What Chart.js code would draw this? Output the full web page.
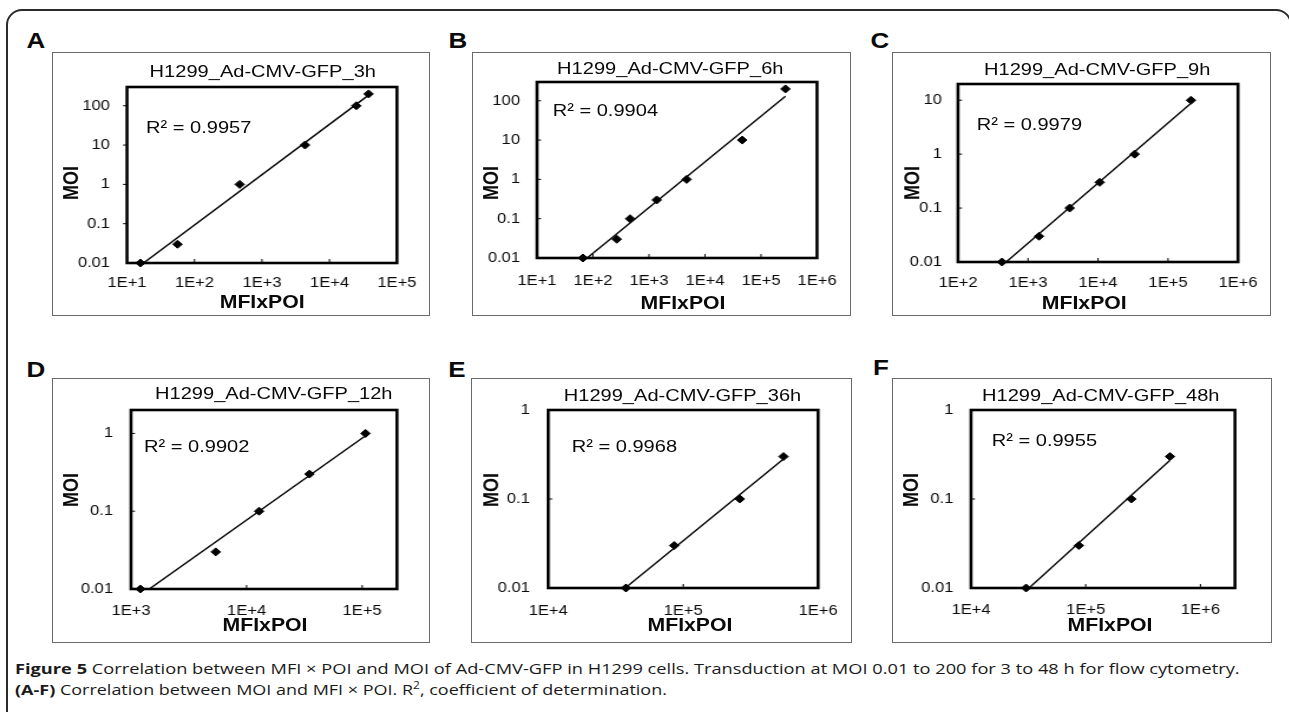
<!DOCTYPE html>
<html>
<head>
<meta charset="utf-8">
<script src="https://cdn.jsdelivr.net/npm/chart.js@4.4.1/dist/chart.umd.min.js"></script>
<style>
  html, body { margin: 0; padding: 0; background: #fff; }
  body { width: 1289px; height: 712px; position: relative; overflow: hidden;
         font-family: "Liberation Sans", Arial, sans-serif; color: #0a0a0a; }
  #frame { position: absolute; left: 6px; top: 9px; width: 1286px; height: 720px;
           border: 2px solid #2b2b2b; border-radius: 16px; box-sizing: border-box; }
  .panel { position: absolute; }
  .box { position: absolute; left: 0; top: 0; right: 0; bottom: 0; border: 1px solid #6a6a6a; }
  .inner { position: absolute; left: 0; top: 0; transform-origin: 0 0; }
  .inner canvas { position: absolute; left: 0; top: 0; }
  .t { position: absolute; white-space: nowrap; line-height: 1; }
  .title { font-size: 17px; transform: translate(-50%, -50%); }
  .r2 { font-size: 17px; transform: translate(0, -50%); }
  .axt { font-size: 18px; font-weight: bold; transform: translate(-50%, -50%); }
  .axy { font-size: 18px; font-weight: bold; transform: translate(-50%, -50%) rotate(-90deg); }
  .letter { position: absolute; font-size: 22px; font-weight: bold; line-height: 1; }
  .cap { position: absolute; left: 15px; white-space: nowrap; line-height: 1;
         font-family: "Open Sans", "Noto Sans", sans-serif; font-size: 15px; color: #1a1a1a;
         transform-origin: 0 50%; }
  .cap b { font-weight: bold; }
  .cap sup { font-size: 10px; line-height: 0; }
</style>
</head>
<body>
<div id="frame"></div>
<div id="fig"></div>
<div class="cap" id="cap1"><b>Figure 5</b> Correlation between MFI × POI and MOI of Ad-CMV-GFP in H1299 cells. Transduction at MOI 0.01 to 200 for 3 to 48 h for flow cytometry.</div>
<div class="cap" id="cap2"><b>(A-F)</b> Correlation between MOI and MFI × POI. R<sup>2</sup>, coefficient of determination.</div>

<script>
// horizontal stretch of the original figure
const S = 1.18

const titles = [
  'H1299_Ad-CMV-GFP_3h', 'H1299_Ad-CMV-GFP_6h', 'H1299_Ad-CMV-GFP_9h',
  'H1299_Ad-CMV-GFP_12h', 'H1299_Ad-CMV-GFP_36h', 'H1299_Ad-CMV-GFP_48h',
]
const r2Labels = ['R² = 0.9957', 'R² = 0.9904', 'R² = 0.9979', 'R² = 0.9902', 'R² = 0.9968', 'R² = 0.9955']
const panelLetters = ['A', 'B', 'C', 'D', 'E', 'F']
const xTitle = 'MFIxPOI'
const yTitle = 'MOI'

// MFI x POI (x) and MOI (y) per panel
const mfiA = [15.8, 56, 467, 4340, 25000, 38000]
const moiA = [0.01, 0.03, 1, 10, 100, 200]
const mfiB = [66, 266, 460, 1374, 4700, 46100, 273000]
const moiB = [0.01, 0.03, 0.1, 0.3, 1, 10, 200]
const mfiC = [425, 1436, 3940, 10560, 33400, 213000]
const moiC = [0.01, 0.03, 0.1, 0.3, 1, 10]
const mfiD = [1205, 5410, 12830, 35000, 106900]
const moiD = [0.01, 0.03, 0.1, 0.3, 1]
const mfiE = [37600, 85900, 263000, 554000]
const moiE = [0.01, 0.03, 0.1, 0.3]
const mfiF = [30200, 87100, 249700, 543000]
const moiF = [0.01, 0.03, 0.1, 0.3]

// tick values and labels
const xTicksA = [1e1, 1e2, 1e3, 1e4, 1e5]
const xLabelsA = ['1E+1', '1E+2', '1E+3', '1E+4', '1E+5']
const xTicksB = [1e1, 1e2, 1e3, 1e4, 1e5, 1e6]
const xLabelsB = ['1E+1', '1E+2', '1E+3', '1E+4', '1E+5', '1E+6']
const xTicksC = [1e2, 1e3, 1e4, 1e5, 1e6]
const xLabelsC = ['1E+2', '1E+3', '1E+4', '1E+5', '1E+6']
const xTicksD = [1e3, 1e4, 1e5]
const xLabelsD = ['1E+3', '1E+4', '1E+5']
const xTicksEF = [1e4, 1e5, 1e6]
const xLabelsEF = ['1E+4', '1E+5', '1E+6']
const yTicksAB = [0.01, 0.1, 1, 10, 100]
const yLabelsAB = ['0.01', '0.1', '1', '10', '100']
const yTicksC = [0.01, 0.1, 1, 10]
const yLabelsC = ['0.01', '0.1', '1', '10']
const yTicksDEF = [0.01, 0.1, 1]
const yLabelsDEF = ['0.01', '0.1', '1']

// axis ranges
const xRanges = [[10, 1e5], [10, 1e6], [100, 1e6], [1000, 2e5], [1e4, 1e6], [1e4, 2e6]]
const yRanges = [[0.01, 300], [0.01, 300], [0.01, 20], [0.01, 2], [0.01, 1], [0.01, 1]]

// layout in page pixels
const panels = [
  { x: mfiA, y: moiA, xt: xTicksA, xl: xLabelsA, yt: yTicksAB, yl: yLabelsAB,
    box: [52, 52, 430, 316], plot: [127, 87, 397, 263], xGap: 20.5, yGap: 17, yOut: true,
    title: [262.8, 71.2], r2: [146, 127], ax: [262.2, 301.7], ay: [71.2, 182.5], letter: [36, 41] },
  { x: mfiB, y: moiB, xt: xTicksB, xl: xLabelsB, yt: yTicksAB, yl: yLabelsAB,
    box: [472, 52, 851, 316], plot: [537, 82, 817, 258], xGap: 22.7, yGap: 17, yOut: false,
    title: [670.3, 67.8], r2: [552.7, 110], ax: [683, 303.3], ay: [491.2, 182.5], letter: [457.5, 41] },
  { x: mfiC, y: moiC, xt: xTicksC, xl: xLabelsC, yt: yTicksC, yl: yLabelsC,
    box: [892, 52, 1271, 316], plot: [958, 84, 1238, 262], xGap: 21.3, yGap: 16, yOut: false,
    title: [1097.2, 68.8], r2: [976.7, 123.7], ax: [1084.3, 303.3], ay: [912, 182.5], letter: [880, 41] },
  { x: mfiD, y: moiD, xt: xTicksD, xl: xLabelsD, yt: yTicksDEF, yl: yLabelsDEF,
    box: [52, 378, 430, 643], plot: [131, 410, 397, 589], xGap: 22.4, yGap: 18, yOut: false,
    title: [273.8, 393.3], r2: [144, 446], ax: [265, 625], ay: [71.2, 489.5], letter: [36, 369.5] },
  { x: mfiE, y: moiE, xt: xTicksEF, xl: xLabelsEF, yt: yTicksDEF, yl: yLabelsDEF,
    box: [471, 378, 852, 643], plot: [548, 410, 817, 588], xGap: 22.8, yGap: 18.3, yOut: false,
    title: [682.5, 395], r2: [571.7, 445.5], ax: [690, 625], ay: [491.2, 489.5], letter: [457, 369.5] },
  { x: mfiF, y: moiF, xt: xTicksEF, xl: xLabelsEF, yt: yTicksDEF, yl: yLabelsDEF,
    box: [892, 378, 1272, 643], plot: [971, 410, 1235, 588], xGap: 22.5, yGap: 17.7, yOut: false,
    title: [1100.8, 395], r2: [991.7, 440.3], ax: [1110, 625], ay: [911.2, 489.5], letter: [880.8, 368] },
]

Chart.defaults.font.family = '"Liberation Sans", Arial, sans-serif'
Chart.defaults.color = '#0a0a0a'

// Excel style power trendline: least squares in log-log space
const powerTrend = (xs, ys) => {
  const lx = xs.map(Math.log10)
  const ly = ys.map(Math.log10)
  const n = lx.length
  const mx = lx.reduce((a, b) => a + b, 0) / n
  const my = ly.reduce((a, b) => a + b, 0) / n
  let sxy = 0
  let sxx = 0
  for (let i = 0; i < n; i++) {
    sxy += (lx[i] - mx) * (ly[i] - my)
    sxx += (lx[i] - mx) * (lx[i] - mx)
  }
  const b = sxy / sxx
  const a = my - b * mx
  const x0 = Math.min(...xs)
  const x1 = Math.max(...xs)
  return [x0, x1].map((v) => ({ x: v, y: Math.pow(10, a + b * Math.log10(v)) }))
}

// plot frame and inner tick marks
const frameTicks = {
  id: 'frameTicks',
  beforeDatasetsDraw(chart, args, opts) {
    const { ctx, chartArea: a } = chart
    const { x, y } = chart.scales
    ctx.save()
    ctx.strokeStyle = '#000'
    ctx.lineWidth = 1
    x.ticks.forEach((t) => {
      const px = x.getPixelForValue(t.value)
      if (px <= a.left + 2 || px >= a.right - 2) return
      ctx.beginPath()
      ctx.moveTo(px, a.bottom)
      ctx.lineTo(px, a.bottom - 4)
      ctx.stroke()
    })
    y.ticks.forEach((t) => {
      const py = y.getPixelForValue(t.value)
      if (py <= a.top + 2 || py >= a.bottom - 2) return
      const dx = (opts.yOut ? -4 : 4) / S
      ctx.beginPath()
      ctx.moveTo(a.left, py)
      ctx.lineTo(a.left + dx, py)
      ctx.stroke()
    })
    ctx.lineWidth = 2.6
    ctx.strokeRect(a.left, a.top, a.right - a.left, a.bottom - a.top)
    ctx.restore()
  },
}

const fig = document.getElementById('fig')

const addText = (parent, cls, text, left, top) => {
  const el = document.createElement('div')
  el.className = 't ' + cls
  el.textContent = text
  el.style.left = left + 'px'
  el.style.top = top + 'px'
  parent.appendChild(el)
}

panels.forEach((p, i) => {
  const [bx, by, bx2, by2] = p.box
  const bw = bx2 - bx
  const bh = by2 - by
  const cw = bw / S
  const ch = bh

  const panel = document.createElement('div')
  panel.className = 'panel'
  Object.assign(panel.style, { left: bx + 'px', top: by + 'px', width: bw + 'px', height: bh + 'px' })
  const box = document.createElement('div')
  box.className = 'box'
  panel.appendChild(box)
  const inner = document.createElement('div')
  inner.className = 'inner'
  Object.assign(inner.style, { width: cw + 'px', height: ch + 'px', transform: `scaleX(${S})` })
  const canvas = document.createElement('canvas')
  inner.appendChild(canvas)
  panel.appendChild(inner)
  fig.appendChild(panel)

  const letter = document.createElement('div')
  letter.className = 'letter'
  letter.textContent = panelLetters[i]
  Object.assign(letter.style, {
    left: p.letter[0] + 'px', top: p.letter[1] + 'px',
    transform: `translate(-50%, -50%) scaleX(${S})`,
  })
  fig.appendChild(letter)

  // texts in canvas coordinates
  const cx = (X) => (X - bx) / S
  const cy = (Y) => Y - by
  addText(inner, 'title', titles[i], cx(p.title[0]), cy(p.title[1]))
  addText(inner, 'r2', r2Labels[i], cx(p.r2[0]), cy(p.r2[1]))
  addText(inner, 'axt', xTitle, cx(p.ax[0]), cy(p.ax[1]))
  addText(inner, 'axy', yTitle, cx(p.ay[0]), cy(p.ay[1]))

  const left = cx(p.plot[0])
  const right = cx(p.plot[2])
  const top = cy(p.plot[1])
  const bottom = cy(p.plot[3])
  const points = p.x.map((v, k) => ({ x: v, y: p.y[k] }))

  new Chart(canvas, {
    type: 'scatter',
    data: {
      datasets: [
        {
          data: points,
          pointStyle: 'rectRot',
          pointRadius: 4,
          backgroundColor: '#000',
          borderColor: '#000',
          borderWidth: 1,
          clip: false,
        },
        {
          data: powerTrend(p.x, p.y),
          showLine: true,
          pointRadius: 0,
          borderColor: '#000',
          borderWidth: 1.4,
        },
      ],
    },
    options: {
      responsive: true,
      maintainAspectRatio: false,
      animation: false,
      events: [],
      layout: { padding: { left: 0, top: top, right: cw - right, bottom: 0 } },
      plugins: {
        legend: { display: false },
        tooltip: { enabled: false },
        frameTicks: { yOut: p.yOut },
      },
      scales: {
        x: {
          type: 'logarithmic',
          min: xRanges[i][0],
          max: xRanges[i][1],
          grid: { display: false, drawTicks: false },
          border: { display: false },
          ticks: {
            autoSkip: false,
            maxRotation: 0,
            padding: p.xGap - 8.4,
            color: '#0a0a0a',
            font: { size: 14 },
            callback: (v, k) => p.xl[k],
          },
          afterBuildTicks: (s) => { s.ticks = p.xt.map((v) => ({ value: v })) },
          afterFit: (s) => {
            s.height = ch - bottom
            s.paddingLeft = 0
            s.paddingRight = 0
          },
        },
        y: {
          type: 'logarithmic',
          min: yRanges[i][0],
          max: yRanges[i][1],
          grid: { display: false, drawTicks: false },
          border: { display: false },
          ticks: {
            autoSkip: false,
            padding: p.yGap / S,
            color: '#0a0a0a',
            font: { size: 14 },
            callback: (v, k) => p.yl[k],
          },
          afterBuildTicks: (s) => { s.ticks = p.yt.map((v) => ({ value: v })) },
          afterFit: (s) => {
            s.width = left
            s.paddingTop = 0
            s.paddingBottom = 0
          },
        },
      },
    },
    plugins: [frameTicks],
  })
})

// caption lines fitted to the widths in the figure
const fitCaption = () => {
  ;[['cap1', 1225, 668], ['cap2', 652, 688.7]].forEach(([id, w, yc]) => {
    const el = document.getElementById(id)
    el.style.transform = 'none'
    const k = w / el.offsetWidth
    el.style.top = yc + 'px'
    el.style.transform = `translateY(-50%) scaleX(${k})`
  })
}
fitCaption()
if (document.fonts) document.fonts.ready.then(fitCaption)
</script>
</body>
</html>
